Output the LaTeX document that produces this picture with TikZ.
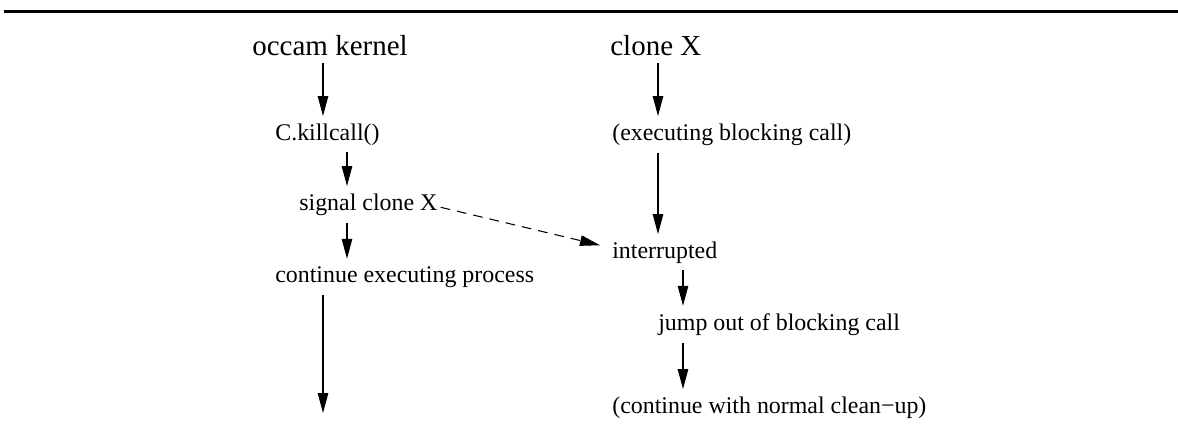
\documentclass[tikz,border=0pt]{standalone}
\usepackage{fontspec}
\setmainfont{Liberation Serif}
\usetikzlibrary{arrows.meta,calc}

\begin{document}
\begin{tikzpicture}
  [x=0.02cm,y=-0.02cm,
   titleN/.style={anchor=base west,inner xsep=0pt,inner ysep=4pt,font=\fontsize{16.5}{20}\selectfont},
   stepN/.style={anchor=base west,inner xsep=0pt,inner ysep=4pt,font=\fontsize{13.6}{16}\selectfont},
   flowA/.style={line width=0.6pt,-{Triangle[length=0.4cm,width=0.21cm]}},
   sigA/.style={flowA,dash pattern=on 5.5pt off 4pt}]

  \useasboundingbox (0,0) rectangle (1178,434);
  \draw [line width=1.7pt] (4,11) -- (1178,11);

  % left column
  \node[titleN] (kernel) at (252,55)  {occam kernel};
  \node[stepN]  (kill)   at (275,140) {C.killcall()};
  \node[stepN]  (signal) at (299,210) {signal clone X};
  \node[stepN]  (cont)   at (275,282) {continue executing process};
  \coordinate (kend) at (323,413);

  % right column
  \node[titleN] (clone) at (610,55)  {clone X};
  \node[stepN]  (exec)  at (612,140) {(executing blocking call)};
  \node[stepN]  (intr)  at (612,258) {interrupted};
  \node[stepN]  (jump)  at (658,330) {jump out of blocking call};
  \node[stepN]  (clean) at (612,413) {(continue with normal clean−up)};

  \draw [flowA] ($(kernel.south west)+(71,0)$) -- ($(kill.north west)+(48,0)$);
  \draw [flowA] ($(kill.south west)+(72,0)$) -- ($(signal.north west)+(48,0)$);
  \draw [flowA] ($(signal.south west)+(48,0)$) -- ($(cont.north west)+(72,0)$);
  \draw [flowA] ($(cont.south west)+(48,0)$) -- (kend);

  \draw [flowA] ($(clone.south west)+(48,0)$) -- ($(exec.north west)+(46,0)$);
  \draw [flowA] ($(exec.south west)+(46,0)$) -- ($(intr.north west)+(46,0)$);
  \draw [flowA] ($(intr.south west)+(71,0)$) -- ($(jump.north west)+(25,0)$);
  \draw [flowA] ($(jump.south west)+(25,0)$) -- ($(clean.north west)+(71,0)$);

  \draw [sigA] ($(signal.east)+(3,3)$) -- ($(intr.west)+(-12,-7)$);

\end{tikzpicture}
\end{document}
